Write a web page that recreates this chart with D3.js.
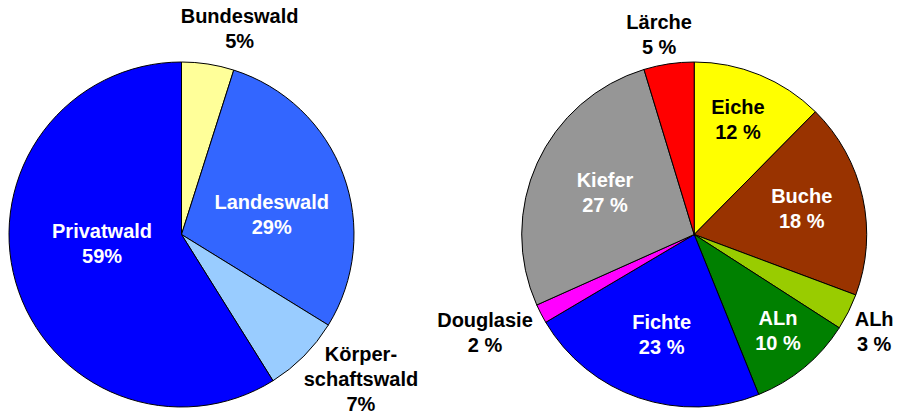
<!DOCTYPE html>
<html>
<head>
<meta charset="utf-8">
<script src="https://cdn.jsdelivr.net/npm/d3@7"></script>
<style>
  body { margin: 0; background: #fff; }
  svg text { font-family: "Liberation Sans", Arial, sans-serif; font-weight: bold; font-size: 20px; }
</style>
</head>
<body>
<svg id="chart" width="898" height="417"></svg>
<script>
// Besitzarten (slice sizes, labels as printed)
const ownerNames = ["Bundeswald", "Landeswald", "Körper-\nschaftswald", "Privatwald"];
const ownerValues = [4.9, 28.9, 7.3, 58.9];
const ownerLabels = ["5%", "29%", "7%", "59%"];
const ownerColors = ["#FFFF99", "#3366FF", "#99CCFF", "#0000FF"];

// Baumarten
const treeNames = ["Eiche", "Buche", "ALh", "ALn", "Fichte", "Douglasie", "Kiefer", "Lärche"];
const treeValues = [12.4, 18.3, 3.4, 9.8, 22.6, 1.8, 27.0, 4.7];
const treeLabels = ["12 %", "18 %", "3 %", "10 %", "23 %", "2 %", "27 %", "5 %"];
const treeColors = ["#FFFF00", "#993300", "#99CC00", "#008000", "#0000FF", "#FF00FF", "#969696", "#FF0000"];

const svg = d3.select("#chart");
const R = 172.5;
const lineH = 25;

// which labels sit outside the pie, text colour, and small label shifts
const outside = new Set(["Bundeswald", "Körper-\nschaftswald", "ALh", "Douglasie", "Lärche"]);
const darkInside = new Set(["Eiche"]);
const labelNudge = {
  "Bundeswald": [25.5, 4], "Landeswald": [-11.7, 18], "Körper-\nschaftswald": [28.7, -5.6], "Privatwald": [25, -21],
  "Eiche": [2.5, -14.5], "Buche": [1.4, -3], "ALh": [-10, 1.6], "ALn": [14.5, 12.3],
  "Fichte": [2.3, -3.2], "Douglasie": [-20.5, 0], "Kiefer": [9.7, 2.7], "Lärche": [-3.8, 10.1]
};

function drawPie(cx, cy, names, values, labels, colors) {
  const items = names.map((n, i) => ({ name: n, value: values[i], label: labels[i], color: colors[i] }));
  const pie = d3.pie().value(d => d.value).sort(null);
  const arc = d3.arc().innerRadius(0).outerRadius(R);
  const inLabel = d3.arc().innerRadius(R * 0.63).outerRadius(R * 0.63);
  const outLabel = d3.arc().innerRadius(R + 40).outerRadius(R + 40);

  const g = svg.append("g").attr("transform", `translate(${cx},${cy})`);
  const arcs = pie(items);

  g.selectAll("path")
    .data(arcs)
    .enter().append("path")
    .attr("d", arc)
    .attr("fill", d => d.data.color)
    .attr("stroke", "#000")
    .attr("stroke-width", 1);

  arcs.forEach(d => {
    const isOut = outside.has(d.data.name);
    const [x0, y0] = (isOut ? outLabel : inLabel).centroid(d);
    const nudge = labelNudge[d.data.name] || [0, 0];
    const lines = d.data.name.split("\n").concat([d.data.label]);
    const n = lines.length;
    // vertical centre of the text block -> first baseline
    const b1 = y0 + nudge[1] - (lineH * (n - 1) - 14.3) / 2;
    const fill = isOut || darkInside.has(d.data.name) ? "#000" : "#fff";
    const t = g.append("text")
      .attr("text-anchor", "middle")
      .attr("fill", fill);
    lines.forEach((s, i) => {
      t.append("tspan")
        .attr("x", x0 + nudge[0])
        .attr("y", b1 + i * lineH)
        .text(s);
    });
  });
}

drawPie(181.5, 234.5, ownerNames, ownerValues, ownerLabels, ownerColors);
drawPie(694.2, 234.5, treeNames, treeValues, treeLabels, treeColors);
</script>
</body>
</html>
